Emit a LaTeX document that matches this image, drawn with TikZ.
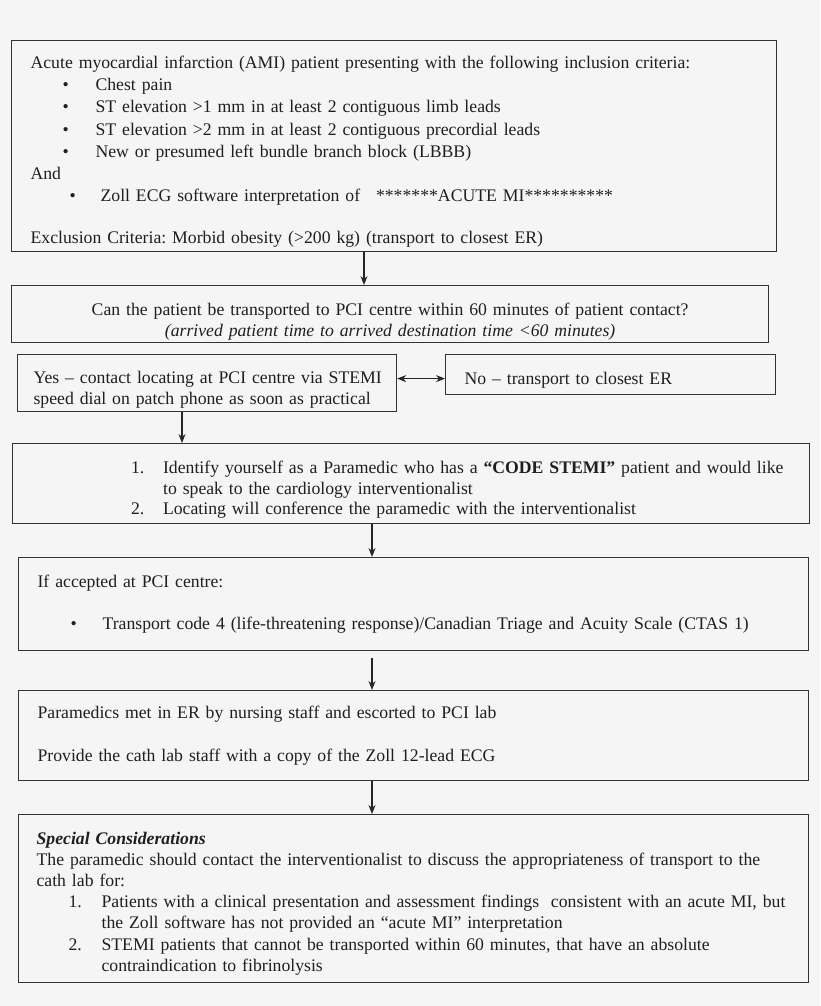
\documentclass[tikz,border=0pt]{standalone}
\usepackage{fontspec}
\setmainfont{Liberation Serif}
\usepackage{tikz}
\usetikzlibrary{arrows.meta}
\frenchspacing

% indent, label box width, label
\newcommand{\lst}[3]{\hspace*{#1}\makebox[#2][l]{#3}}
% taller first line, pushes the text of a box down
\newcommand{\pad}[1]{\rule{0pt}{#1}}

\begin{document}
\begin{tikzpicture}[x=1pt, y=-1pt, >={Stealth[length=9pt,width=7pt]}, line width=1.2pt, flow box/.style={draw=black!80, text=black!88, anchor=north west, inner ysep=0pt, inner xsep=19pt, align=left, font=\fontsize{17.7}{21.2}\selectfont}]

\fill[black!4] (0,0) rectangle (820,1006);
\useasboundingbox (0,0) rectangle (820,1006);

\node[flow box, text width=727pt, minimum height=211pt, font=\fontsize{17.7}{22.3}\selectfont] (criteria) at (11,40) {\pad{23pt}Acute myocardial infarction (AMI) patient presenting with the following inclusion criteria:\\
\lst{32pt}{33pt}{\textbullet}Chest pain\\
\lst{32pt}{33pt}{\textbullet}ST elevation >1 mm in at least 2 contiguous limb leads\\
\lst{32pt}{33pt}{\textbullet}ST elevation >2 mm in at least 2 contiguous precordial leads\\
\lst{32pt}{33pt}{\textbullet}New or presumed left bundle branch block (LBBB)\\
And\\
\lst{39pt}{31pt}{\textbullet}Zoll ECG software interpretation of \hspace{10pt}*******ACUTE MI**********\\[19pt]
Exclusion Criteria: Morbid obesity (>200 kg) (transport to closest ER)};

\node[flow box, align=center, text width=720pt, inner xsep=18.5pt, minimum height=57pt] (reach) at (11,285) {\pad{27pt}Can the patient be transported to PCI centre within 60 minutes of patient contact?\\
\textit{(arrived patient time to arrived destination time <60 minutes)}};

\node[flow box, text width=347pt, inner xsep=16pt, minimum height=57pt] (yes) at (17,354) {\pad{26pt}\mbox{Yes -- contact locating at PCI centre via STEMI}\\
speed dial on patch phone as soon as practical};

\node[flow box, text width=292pt, minimum height=40pt] (no) at (445,354) {\pad{24pt}No -- transport to closest ER};

\node[flow box, text width=761.5pt, inner xsep=18pt, minimum height=80pt, font=\fontsize{17.7}{20.7}\selectfont] (call) at (11.5,443) {\pad{25pt}\lst{101pt}{32pt}{1.}\mbox{Identify yourself as a Paramedic who has a \textbf{“CODE STEMI”} patient and would like}\\
\hspace*{133pt}to speak to the cardiology interventionalist\\
\lst{101pt}{32pt}{2.}Locating will conference the paramedic with the interventionalist};

\node[flow box, text width=752pt, minimum height=93pt] (accepted) at (18,557) {If accepted at PCI centre:\\[21pt]
\lst{33pt}{32pt}{\textbullet}Transport code 4 (life-threatening response)/Canadian Triage and Acuity Scale (CTAS 1)};

\node[flow box, text width=752pt, minimum height=90pt] (arrival) at (18,690) {Paramedics met in ER by nursing staff and escorted to PCI lab\\[21pt]
Provide the cath lab staff with a copy of the Zoll 12-lead ECG};

\node[flow box, text width=754pt, inner xsep=18pt, minimum height=168pt] (special) at (18,814) {\pad{22pt}\textbf{\textit{Special Considerations}}\\
The paramedic should contact the interventionalist to discuss the appropriateness of transport to the\\
cath lab for:\\
\lst{32pt}{33pt}{1.}\mbox{Patients with a clinical presentation and assessment findings\ \ consistent with an acute MI, but}\\
\hspace*{65pt}the Zoll software has not provided an “acute MI” interpretation\\
\lst{32pt}{33pt}{2.}STEMI patients that cannot be transported within 60 minutes, that have an absolute\\
\hspace*{65pt}contraindication to fibrinolysis};

% arrow columns
\coordinate (colA) at (364,0);
\coordinate (colB) at (182,0);
\coordinate (colC) at (372,0);
\coordinate (split) at ([yshift=-4pt]no.west);

\draw[->, draw=black!85] (criteria.south -| colA) -- (reach.north -| colA);
\draw[<->, draw=black!85] (split -| yes.east) -- (split);
\draw[->, draw=black!85] (yes.south -| colB) -- (call.north -| colB);
\draw[->, draw=black!85] (call.south -| colC) -- (accepted.north -| colC);
\draw[->, draw=black!85, shorten <=7pt] (accepted.south -| colC) -- (arrival.north -| colC);
\draw[->, draw=black!85] (arrival.south -| colC) -- (special.north -| colC);
\end{tikzpicture}
\end{document}
